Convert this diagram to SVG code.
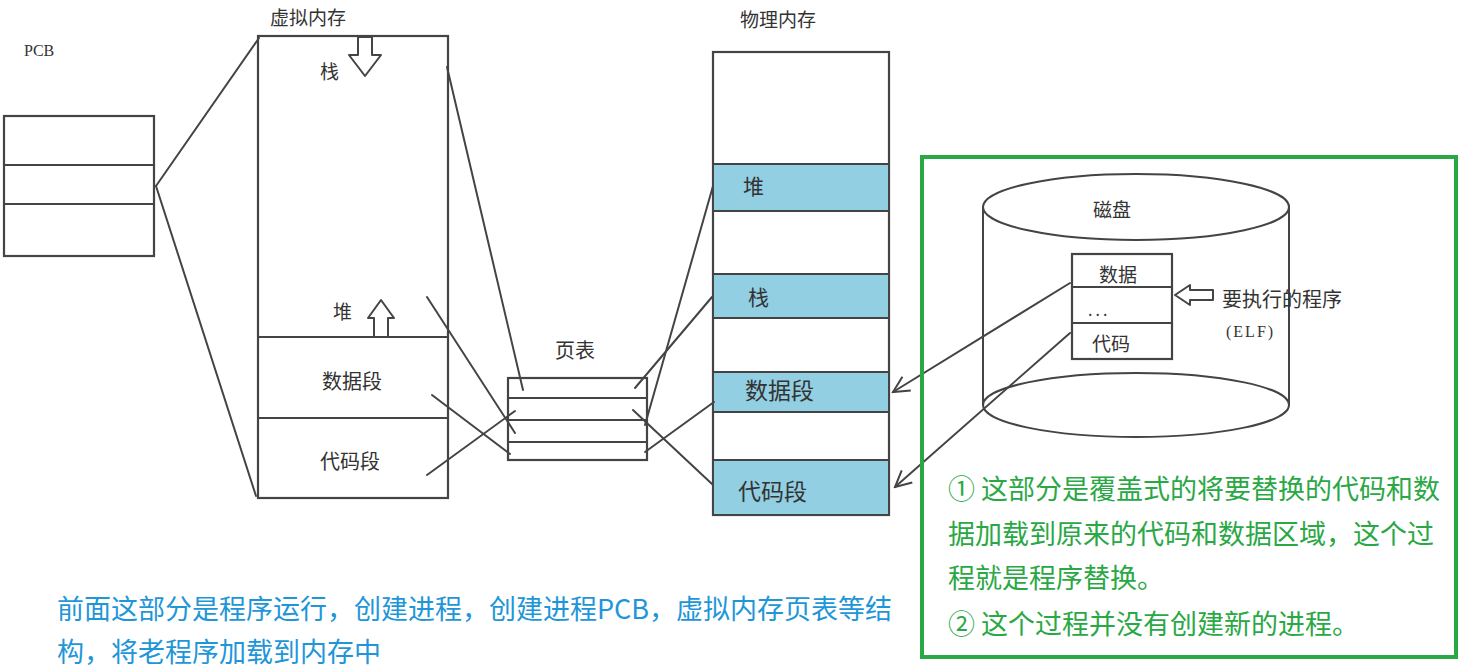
<svg xmlns="http://www.w3.org/2000/svg" width="1464" height="671" viewBox="0 0 1464 671">
<defs>
<style>
.ln{stroke:#444;stroke-width:2;fill:none;stroke-linecap:round}
.bx{stroke:#444;stroke-width:2.2;fill:none}
.band{fill:#92cfe3;stroke:#444;stroke-width:2}
.lbl{font-family:"Noto Sans CJK SC","Noto Sans",sans-serif;fill:#333}
.blue{font-family:"Noto Sans CJK SC","Noto Sans",sans-serif;fill:#1e96d8;font-size:27px}
.green{font-family:"Noto Sans CJK SC","Noto Sans",sans-serif;fill:#2aa845;font-size:27px}
.harrow{fill:#fff;stroke:#444;stroke-width:2;stroke-linejoin:round}
</style>
<marker id="open" viewBox="0 0 20 20" refX="18" refY="10" markerWidth="20" markerHeight="20" markerUnits="userSpaceOnUse" orient="auto">
<path d="M2,2 L18,10 L2,18" fill="none" stroke="#444" stroke-width="2"/>
</marker>
</defs>
<rect width="1464" height="671" fill="#fff"/>

<g id="pcb">
<text class="lbl" x="24" y="56" style="font-family:'Liberation Serif',serif;font-size:16px">PCB</text>
<rect class="bx" x="4" y="116" width="150" height="140"/>
<line class="ln" x1="4" y1="165" x2="154" y2="165"/>
<line class="ln" x1="4" y1="204" x2="154" y2="204"/>
</g>

<g id="virtual-memory">
<text class="lbl" x="270" y="25" font-size="19">虚拟内存</text>
<rect class="bx" x="258" y="36" width="190" height="462"/>
<line class="ln" x1="258" y1="337" x2="448" y2="337"/>
<line class="ln" x1="258" y1="418" x2="448" y2="418"/>
<path class="harrow" d="M358,37 H372 V55 H381 L365,76 L349,55 H358 Z"/>
<path class="harrow" d="M374,337 V318 H368 L381,300 L394,318 H388 V337 Z"/>
<text class="lbl" x="320" y="79" font-size="19">栈</text>
<text class="lbl" x="333" y="319" font-size="19">堆</text>
<text class="lbl" x="322" y="389" font-size="20">数据段</text>
<text class="lbl" x="320" y="469" font-size="20">代码段</text>
</g>

<g id="page-table">
<text class="lbl" x="555" y="358" font-size="20">页表</text>
<rect class="bx" x="508" y="378" width="139" height="82"/>
<line class="ln" x1="508" y1="398" x2="647" y2="398"/>
<line class="ln" x1="508" y1="420" x2="647" y2="420"/>
<line class="ln" x1="508" y1="442" x2="647" y2="442"/>
</g>

<g id="physical-memory">
<text class="lbl" x="740" y="27" font-size="19">物理内存</text>
<rect class="bx" x="713" y="52" width="176" height="463"/>
<rect class="band" x="713" y="164" width="176" height="47"/>
<rect class="band" x="713" y="274" width="176" height="44"/>
<rect class="band" x="713" y="372" width="176" height="40"/>
<rect class="band" x="713" y="460" width="176" height="55"/>
<text class="lbl" x="743" y="194" font-size="21">堆</text>
<text class="lbl" x="748" y="305" font-size="21">栈</text>
<text class="lbl" x="745" y="399" font-size="23">数据段</text>
<text class="lbl" x="738" y="500" font-size="23">代码段</text>
</g>

<g id="disk">
<line class="ln" x1="983" y1="207" x2="983" y2="405"/>
<line class="ln" x1="1289" y1="207" x2="1289" y2="405"/>
<ellipse class="ln" cx="1136" cy="207" rx="153" ry="33"/>
<ellipse class="ln" cx="1136" cy="405" rx="153" ry="32"/>
<text class="lbl" x="1093" y="217" font-size="19">磁盘</text>
<rect class="bx" x="1072" y="254" width="100" height="105" style="fill:#fff"/>
<line class="ln" x1="1072" y1="287" x2="1172" y2="287"/>
<line class="ln" x1="1072" y1="323" x2="1172" y2="323"/>
<text class="lbl" x="1099" y="282" font-size="19">数据</text>
<text class="lbl" x="1088" y="316" font-size="16" letter-spacing="3">...</text>
<text class="lbl" x="1092" y="351" font-size="19">代码</text>
<path class="harrow" d="M1175,295 L1190,285 V290 H1213 V300 H1190 V305 Z"/>
<text class="lbl" x="1222" y="307" font-size="20">要执行的程序</text>
<text class="lbl" x="1226" y="337" font-size="16" letter-spacing="2" style="font-family:'Liberation Serif',serif">(ELF)</text>
</g>

<g id="connectors">
<line class="ln" x1="156" y1="186" x2="259" y2="38"/>
<line class="ln" x1="156" y1="186" x2="256" y2="496"/>
<line class="ln" x1="447" y1="67" x2="523" y2="390"/>
<line class="ln" x1="427" y1="297" x2="515" y2="433"/>
<line class="ln" x1="432" y1="395" x2="510" y2="454"/>
<line class="ln" x1="427" y1="475" x2="515" y2="411"/>
<line class="ln" x1="645" y1="425" x2="713" y2="186"/>
<line class="ln" x1="635" y1="388" x2="712" y2="297"/>
<line class="ln" x1="633" y1="410" x2="712" y2="484"/>
<line class="ln" x1="645" y1="452" x2="714" y2="402"/>
<line class="ln" x1="1070" y1="283" x2="893" y2="392" marker-end="url(#open)"/>
<line class="ln" x1="1070" y1="333" x2="895" y2="487" marker-end="url(#open)"/>
</g>

<g id="note-green">
<rect x="922" y="157" width="534" height="500" fill="none" stroke="#2aa845" stroke-width="4"/>
<text class="green" x="948" y="499">① 这部分是覆盖式的将要替换的代码和数</text>
<text class="green" x="948" y="544">据加载到原来的代码和数据区域，这个过</text>
<text class="green" x="948" y="588">程就是程序替换。</text>
<text class="green" x="948" y="634">② 这个过程并没有创建新的进程。</text>
</g>

<g id="note-blue">
<text class="blue" x="57" y="619">前面这部分是程序运行，创建进程，创建进程PCB，虚拟内存页表等结</text>
<text class="blue" x="57" y="662">构，将老程序加载到内存中</text>
</g>
</svg>
